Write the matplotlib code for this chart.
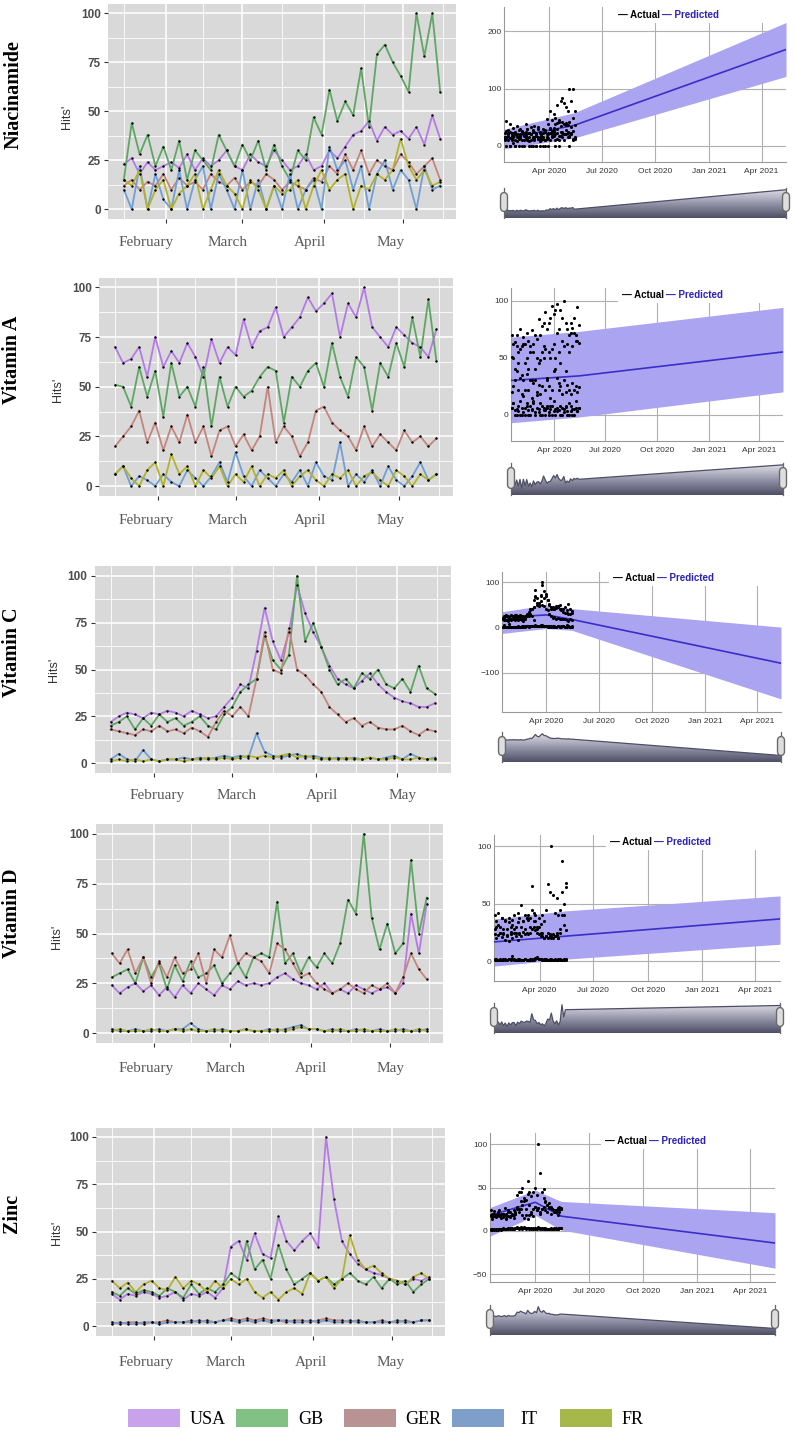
import numpy as np
import pandas as pd
import matplotlib
matplotlib.use("Agg")
import matplotlib.pyplot as plt
from matplotlib.patches import Rectangle
from matplotlib.colors import LinearSegmentedColormap
import matplotlib.dates as mdates

plt.rcParams['font.family'] = ['Liberation Sans', 'DejaVu Sans']

# hits, read every third day from 16 Jan to 15 May 2020
obs_start = "2020-01-16"
n_obs = 41
countries = ["USA", "GB", "GER", "IT", "FR"]
line_colors = ["#b57ae6", "#5fa665", "#c4857d", "#6f9fd6", "#b2b22c"]
swatch_colors = ["#c9a2ec", "#82c184", "#b99393", "#7f9fcb", "#a6b84a"]

nia_usa = [23, 26, 18, 24, 20, 22, 24, 21, 28, 20, 26, 22, 25, 30, 22, 20, 28, 24, 22, 30,
           25, 20, 22, 28, 20, 22, 30, 26, 32, 38, 40, 45, 35, 42, 38, 40, 36, 42, 33, 48, 36]
nia_gb = [15, 44, 28, 38, 22, 32, 20, 35, 15, 30, 25, 20, 38, 30, 22, 33, 25, 35, 20, 33,
          22, 15, 30, 25, 47, 38, 61, 45, 55, 48, 72, 42, 79, 84, 75, 68, 60, 100, 78, 100, 60]
nia_ger = [12, 15, 10, 14, 12, 18, 10, 16, 12, 14, 10, 18, 14, 12, 16, 10, 14, 12, 18, 15,
           10, 14, 12, 10, 16, 14, 22, 18, 28, 20, 30, 18, 25, 22, 20, 28, 24, 18, 22, 26, 15]
nia_it = [10, 0, 22, 0, 18, 5, 0, 20, 0, 15, 22, 0, 18, 10, 0, 20, 0, 15, 0, 12,
          0, 18, 0, 10, 15, 0, 32, 20, 25, 10, 22, 0, 18, 25, 10, 20, 15, 0, 22, 10, 12]
nia_fr = [15, 12, 20, 0, 10, 15, 0, 8, 12, 18, 0, 10, 20, 12, 8, 0, 15, 10, 0, 12,
          8, 10, 15, 0, 12, 20, 10, 15, 18, 0, 12, 10, 18, 15, 20, 36, 22, 15, 20, 12, 14]

vita_usa = [70, 62, 64, 70, 55, 75, 60, 68, 62, 72, 65, 55, 74, 62, 70, 66, 84, 70, 78, 80,
            90, 75, 80, 85, 95, 88, 92, 97, 75, 92, 85, 100, 80, 75, 70, 80, 76, 72, 70, 65, 79]
vita_gb = [51, 50, 40, 60, 45, 58, 35, 62, 45, 50, 40, 60, 30, 55, 40, 50, 45, 48, 55, 60,
           58, 32, 55, 50, 58, 62, 50, 72, 55, 45, 65, 60, 38, 62, 55, 72, 60, 85, 65, 94, 63]
vita_ger = [20, 25, 30, 38, 22, 32, 18, 30, 22, 36, 22, 30, 15, 28, 30, 20, 26, 18, 25, 50,
            22, 30, 25, 15, 22, 38, 40, 32, 28, 25, 18, 30, 20, 26, 22, 18, 28, 22, 25, 20, 24]
vita_it = [6, 10, 0, 5, 3, 0, 6, 2, 0, 8, 4, 0, 5, 12, 2, 17, 5, 0, 8, 4,
           0, 6, 2, 8, 0, 12, 5, 3, 22, 0, 6, 2, 8, 0, 10, 3, 0, 5, 12, 3, 6]
vita_fr = [6, 10, 4, 0, 8, 12, 0, 16, 6, 10, 0, 8, 4, 10, 0, 6, 2, 10, 0, 6,
           4, 8, 0, 5, 8, 3, 0, 6, 4, 8, 0, 5, 7, 3, 0, 8, 5, 0, 6, 3, 6]

vitc_usa = [22, 25, 27, 26, 24, 27, 26, 28, 27, 25, 28, 26, 24, 25, 30, 35, 42, 40, 60, 83,
            65, 55, 70, 95, 80, 70, 62, 52, 45, 42, 40, 44, 48, 42, 38, 35, 33, 32, 30, 30, 32]
vitc_gb = [20, 22, 25, 18, 24, 20, 26, 22, 24, 20, 22, 25, 20, 18, 26, 30, 38, 42, 45, 68,
           55, 50, 58, 100, 65, 75, 62, 50, 42, 45, 40, 48, 45, 50, 42, 40, 45, 38, 52, 40, 37]
vitc_ger = [18, 17, 16, 15, 18, 17, 20, 17, 18, 16, 19, 17, 14, 22, 28, 25, 30, 25, 45, 70,
            50, 48, 72, 50, 47, 42, 38, 30, 26, 22, 24, 20, 22, 19, 18, 18, 20, 17, 15, 18, 17]
vitc_it = [2, 5, 2, 1, 7, 2, 1, 2, 2, 3, 2, 3, 2, 3, 4, 3, 4, 3, 16, 6,
           4, 3, 4, 5, 3, 4, 3, 2, 3, 2, 3, 2, 3, 2, 3, 4, 2, 5, 3, 2, 3]
vitc_fr = [1, 2, 1, 2, 1, 2, 1, 2, 2, 1, 2, 2, 3, 2, 3, 2, 3, 4, 3, 4,
           3, 4, 5, 3, 4, 3, 2, 3, 2, 3, 2, 2, 3, 2, 2, 3, 2, 2, 3, 2, 2]

vitd_usa = [24, 20, 23, 25, 21, 24, 19, 23, 18, 24, 20, 25, 22, 19, 24, 22, 26, 24, 25, 24,
            25, 28, 30, 27, 25, 24, 22, 25, 20, 22, 20, 24, 22, 20, 22, 23, 20, 25, 60, 40, 65]
vitd_gb = [28, 30, 32, 25, 38, 28, 35, 22, 34, 26, 36, 28, 30, 34, 25, 30, 35, 28, 38, 40,
           38, 66, 35, 40, 30, 38, 33, 40, 35, 45, 67, 60, 100, 58, 42, 55, 40, 45, 87, 50, 68]
vitd_ger = [40, 35, 42, 30, 38, 25, 36, 28, 38, 30, 32, 40, 25, 42, 38, 49, 35, 40, 38, 36,
            30, 45, 42, 35, 28, 30, 25, 22, 20, 22, 25, 22, 20, 24, 22, 25, 20, 28, 40, 32, 27]
vitd_it = [2, 1, 1, 2, 1, 1, 2, 1, 2, 2, 5, 2, 1, 1, 2, 1, 1, 2, 1, 1,
           2, 1, 2, 3, 4, 2, 2, 1, 2, 1, 1, 2, 1, 1, 2, 1, 1, 2, 1, 1, 2]
vitd_fr = [1, 2, 1, 1, 1, 2, 1, 1, 2, 1, 2, 1, 1, 2, 1, 1, 1, 2, 1, 1,
           1, 2, 1, 2, 3, 2, 2, 1, 1, 2, 1, 1, 2, 1, 1, 1, 2, 1, 1, 2, 1]

zinc_usa = [17, 14, 17, 16, 18, 17, 15, 16, 18, 14, 17, 16, 18, 15, 20, 42, 45, 35, 49, 38,
            36, 58, 45, 40, 45, 49, 42, 100, 67, 45, 38, 33, 30, 28, 27, 25, 24, 22, 25, 24, 26]
zinc_gb = [18, 16, 20, 17, 19, 18, 16, 20, 18, 15, 22, 17, 20, 18, 22, 28, 25, 45, 30, 35,
           25, 43, 30, 22, 25, 28, 24, 26, 22, 25, 28, 24, 22, 26, 20, 25, 22, 24, 18, 22, 25]
zinc_ger = [2, 1, 2, 2, 1, 2, 2, 3, 2, 2, 3, 2, 3, 2, 3, 4, 3, 4, 3, 4,
            3, 3, 2, 3, 3, 2, 3, 4, 3, 3, 2, 3, 2, 2, 3, 2, 2, 3, 2, 3, 3]
zinc_it = [1, 2, 1, 1, 2, 2, 1, 2, 2, 2, 2, 3, 2, 2, 3, 3, 2, 3, 2, 3,
           2, 3, 3, 2, 2, 3, 2, 3, 2, 2, 3, 2, 2, 2, 2, 2, 3, 2, 2, 3, 3]
zinc_fr = [24, 20, 23, 18, 22, 24, 20, 19, 26, 20, 24, 22, 18, 24, 20, 25, 22, 25, 18, 15,
           18, 14, 18, 20, 17, 28, 24, 26, 20, 25, 48, 35, 30, 32, 28, 25, 24, 22, 26, 28, 25]

# forecast key points (trend and interval)
fc3_dates = ["2020-01-15", "2020-05-15", "2021-05-13"]
fc4_dates = ["2020-01-15", "2020-04-01", "2020-05-15", "2021-05-13"]
nia_pred, nia_low, nia_up = [12, 36, 168], [-5, 14, 121], [29, 58, 215]
vita_pred, vita_low, vita_up = [30, 34, 55], [-7, -2, 20], [68, 73, 94]
vitc_pred, vitc_low, vitc_up = [22, 28, 18, -79], [-13, -2, -6, -158], [35, 50, 42, 1]
vitd_pred, vitd_low, vitd_up = [17, 22, 37], [-4, 2, 15], [37, 44, 57]
zinc_pred, zinc_low, zinc_up = [18, 33, 17, -14], [-6, 18, 1, -43], [27, 47, 34, 21]

right_ticks = ["2020-04-01", "2020-07-01", "2020-10-01", "2021-01-01", "2021-04-01"]
right_tick_labels = ["Apr 2020", "Jul 2020", "Oct 2020", "Jan 2021", "Apr 2021"]
month_names = ["February", "March", "April", "May"]

rows = [
    ("Niacinamide", [nia_usa, nia_gb, nia_ger, nia_it, nia_fr], fc3_dates, nia_pred, nia_low, nia_up, [0, 100, 200]),
    ("Vitamin A", [vita_usa, vita_gb, vita_ger, vita_it, vita_fr], fc3_dates, vita_pred, vita_low, vita_up, [0, 50, 100]),
    ("Vitamin C", [vitc_usa, vitc_gb, vitc_ger, vitc_it, vitc_fr], fc4_dates, vitc_pred, vitc_low, vitc_up, [-100, 0, 100]),
    ("Vitamin D", [vitd_usa, vitd_gb, vitd_ger, vitd_it, vitd_fr], fc3_dates, vitd_pred, vitd_low, vitd_up, [0, 50, 100]),
    ("Zinc", [zinc_usa, zinc_gb, zinc_ger, zinc_it, zinc_fr], fc4_dates, zinc_pred, zinc_low, zinc_up, [-50, 0, 50, 100]),
]

# layout in pixels: left panel box, right box, right ylim, mini box, month label x / y,
# Hits' position, row label position, legend position
layout = [
    dict(lb=(108, 456, 3.5, 219), rb=(504, 786, 7, 162), rylim=(-28, 242), mb=(188, 218),
         mx=[146, 228, 310, 391], my=246, hits=(67, 117), lab=(14, 95), leg=(618, 15)),
    dict(lb=(99, 452.5, 277.5, 496), rb=(511, 783, 288, 441), rylim=(-23, 111), mb=(463, 495),
         mx=[146, 228, 310, 391], my=524, hits=(58, 390), lab=(12, 360), leg=(622, 295)),
    dict(lb=(94.5, 451, 566.5, 772.5), rb=(502, 781, 572, 712), rylim=(-187, 123), mb=(732, 762),
         mx=[157, 237, 322, 403], my=799, hits=(54, 670), lab=(12, 652), leg=(613, 578)),
    dict(lb=(96, 442.5, 824, 1043), rb=(494, 780, 835, 981), rylim=(-17, 110), mb=(1003, 1033),
         mx=[146, 226, 311, 391], my=1072, hits=(57, 937), lab=(12, 913), leg=(610, 842)),
    dict(lb=(96, 445, 1127.5, 1335.5), rb=(490, 775, 1133, 1282), rylim=(-59, 113), mb=(1305, 1335),
         mx=[146, 226, 311, 391], my=1366, hits=(57, 1233), lab=(12, 1213), leg=(605, 1141)),
]

W, H = 795, 1446
fig = plt.figure(figsize=(W / 100, H / 100), dpi=100)


def box(x0, x1, top, bottom):
    return [x0 / W, 1 - bottom / H, (x1 - x0) / W, (bottom - top) / H]


def fx(px):
    return px / W


def fy(py):
    return 1 - py / H


obs_dates = pd.date_range(obs_start, periods=n_obs, freq="3D")
right_lim = (pd.Timestamp("2020-01-15"), pd.Timestamp("2021-05-13"))
mini_cmap = LinearSegmentedColormap.from_list("mini", ["#4e4e66", "#9797ab", "#e4e4ec"])

for (name, series, fc_dates, pred, low, up, yt), lay in zip(rows, layout):
    # ---- ggplot-like trends panel
    ax = fig.add_axes(box(*lay["lb"]))
    ax.set_facecolor("#d9d9d9")
    for vals, col in zip(series, line_colors):
        ax.plot(obs_dates, vals, color=col, lw=1.3, zorder=3)
    for vals in series:
        ax.scatter(obs_dates, vals, s=3, color="black", lw=0, zorder=4)
    ax.set_xlim(pd.Timestamp("2020-01-10"), pd.Timestamp("2020-05-21"))
    ax.set_ylim(-5, 105)
    ax.set_yticks([0, 25, 50, 75, 100])
    ax.set_yticks([12.5, 37.5, 62.5, 87.5], minor=True)
    ax.set_xticks(pd.to_datetime(["2020-02-01", "2020-03-01", "2020-04-01", "2020-05-01"]))
    ax.set_xticks(pd.to_datetime(["2020-01-16", "2020-02-15", "2020-03-16", "2020-04-16", "2020-05-16"]), minor=True)
    ax.set_xticklabels([])
    ax.grid(which="major", color="white", lw=1.1, zorder=0)
    ax.grid(which="minor", color="white", lw=0.6, zorder=0)
    ax.set_axisbelow(True)
    for s in ax.spines.values():
        s.set_visible(False)
    ax.tick_params(which="major", length=3, color="#333333", width=0.8)
    ax.tick_params(which="minor", length=0)
    ax.tick_params(axis="y", labelsize=8.5, labelcolor="#4d4d4d", pad=2)
    for t in ax.get_yticklabels():
        t.set_fontweight("bold")

    for mxp, mname in zip(lay["mx"], month_names):
        fig.text(fx(mxp), fy(lay["my"]), mname, family="Liberation Serif", fontsize=11,
                 color="#5a5a5a", ha="center", va="baseline")
    fig.text(fx(lay["hits"][0]), fy(lay["hits"][1]), "Hits'", rotation=90, fontsize=9,
             color="#333333", ha="center", va="center")
    fig.text(fx(lay["lab"][0]), fy(lay["lab"][1]), name, rotation=90, fontsize=14.5,
             fontweight="bold", family="Liberation Serif", ha="center", va="center")

    # ---- forecast panel
    rx = fig.add_axes(box(*lay["rb"]))
    fcd = pd.to_datetime(fc_dates)
    rx.fill_between(fcd, low, up, color="#aba4f1", lw=0, zorder=2)
    rx.plot(fcd, pred, color="#3a2ec8", lw=1.2, zorder=3)
    for vals in series:
        rx.scatter(obs_dates, vals, s=5, color="black", lw=0, zorder=4)
    rx.set_xlim(*right_lim)
    rx.set_ylim(*lay["rylim"])
    rx.set_yticks(yt)
    rx.set_xticks(pd.to_datetime(right_ticks))
    rx.set_xticklabels(right_tick_labels)
    rx.grid(color="#b0b0b0", lw=0.8)
    rx.set_axisbelow(True)
    rx.spines["top"].set_visible(False)
    rx.spines["right"].set_visible(False)
    rx.spines["left"].set_color("#999999")
    rx.spines["bottom"].set_color("#999999")
    rx.tick_params(length=0, labelsize=6, labelcolor="#333333")
    rx.tick_params(axis="y", pad=2)
    rx.tick_params(axis="x", pad=4)

    lx, ly = lay["leg"]
    x1 = lay["rb"][1]
    fig.add_artist(Rectangle((fx(lx - 4), fy(ly + 8)), fx(x1 + 3) - fx(lx - 4), (17) / H,
                             transform=fig.transFigure, facecolor="white", edgecolor="none", zorder=5))
    fig.text(fx(lx), fy(ly), "\u2014 Actual", fontsize=7, fontweight="bold", color="black",
             va="center", zorder=6)
    fig.text(fx(lx + 44), fy(ly), "\u2014 Predicted", fontsize=7, fontweight="bold", color="#2a22b8",
             va="center", zorder=6)

    # ---- range selector strip
    mtop, mbot = lay["mb"]
    mxa = fig.add_axes(box(lay["rb"][0], lay["rb"][1], mtop, mbot))
    later = fcd > obs_dates[-1]
    mini_x = np.concatenate([mdates.date2num(obs_dates), mdates.date2num(fcd[later])])
    mini_y = np.concatenate([np.mean(series, axis=0), np.asarray(pred)[later]])
    rng = mini_y.max() - mini_y.min()
    ylo, yhi = mini_y.min() - 0.3 * rng, mini_y.max() + 0.08 * rng
    xlo, xhi = mdates.date2num(right_lim[0]), mdates.date2num(right_lim[1])
    grad = np.linspace(0, 1, 100).reshape(-1, 1)
    im = mxa.imshow(grad, extent=[xlo, xhi, ylo, yhi], aspect="auto", cmap=mini_cmap,
                    origin="lower", zorder=1)
    poly = mxa.fill_between(mini_x, mini_y, ylo, facecolor="none", edgecolor="none")
    im.set_clip_path(poly.get_paths()[0], transform=mxa.transData)
    mxa.plot(mini_x, mini_y, color="#4e4e66", lw=0.9, zorder=2)
    mxa.set_xlim(xlo, xhi)
    mxa.set_ylim(ylo, yhi)
    mxa.axis("off")
    for hx in (0, 1):
        mxa.plot([hx, hx], [0, 1], transform=mxa.transAxes, color="#666666", lw=0.9,
                 clip_on=False, zorder=3)
        mxa.plot([hx, hx], [0.32, 0.74], transform=mxa.transAxes, color="#6a6a6a", lw=6,
                 solid_capstyle="round", clip_on=False, zorder=4)
        mxa.plot([hx, hx], [0.32, 0.74], transform=mxa.transAxes, color="#dedede", lw=4,
                 solid_capstyle="round", clip_on=False, zorder=5)

# ---- bottom legend
sw_x = [128, 236, 344, 452, 560]
txt_x = [190, 298, 405, 520, 622]
for c, col, sx, tx in zip(countries, swatch_colors, sw_x, txt_x):
    fig.add_artist(Rectangle((fx(sx), fy(1427)), 52 / W, 18 / H, transform=fig.transFigure,
                             facecolor=col, edgecolor="none"))
    fig.text(fx(tx), fy(1419), c, family="Liberation Serif", fontsize=13, va="center")

fig.savefig("out.png", dpi=100)
